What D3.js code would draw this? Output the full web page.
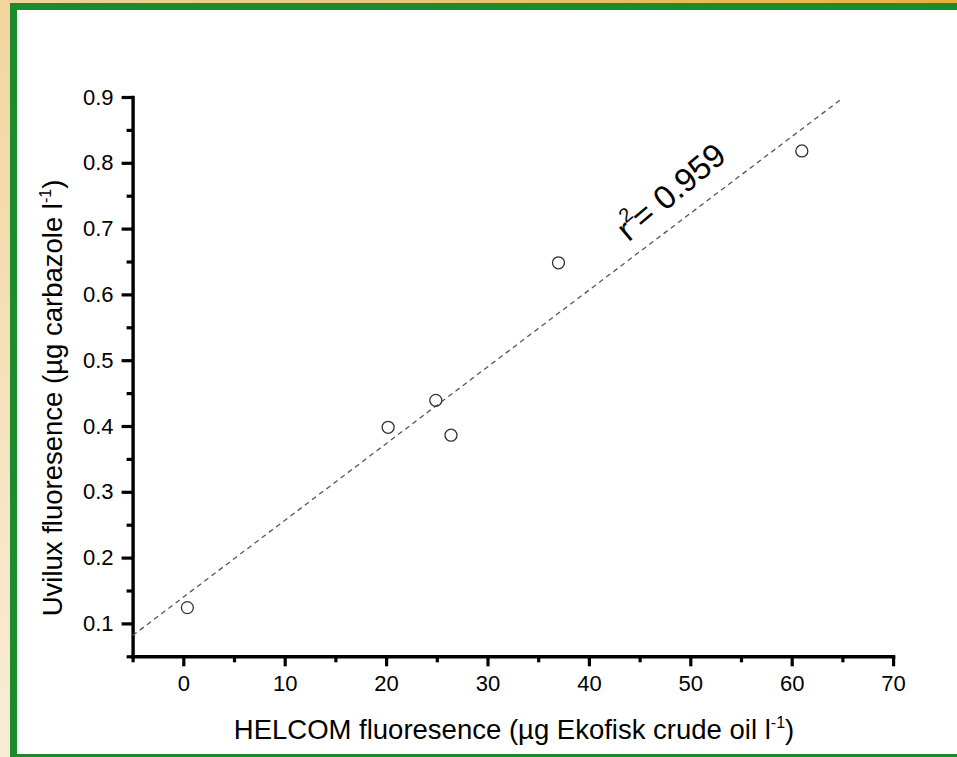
<!DOCTYPE html>
<html>
<head>
<meta charset="utf-8">
<script src="https://cdn.jsdelivr.net/npm/d3@7"></script>
<style>
  body { margin: 0; overflow: hidden; }
  text { font-family: "Liberation Sans", Arial, sans-serif; fill: #000; }
</style>
</head>
<body>
<div class="canvas"></div>
<script>
// measured points
const helcom = [0.4, 20.2, 24.9, 26.4, 37.0, 61.0];
const uvilux = [0.124, 0.398, 0.439, 0.386, 0.648, 0.818];

// regression line end points
const fitX = [-5, 65];
const fitY = [0.0815, 0.898];

const xMajor = [0, 10, 20, 30, 40, 50, 60, 70];
const xMinor = [-5, 5, 15, 25, 35, 45, 55, 65];
const yMajor = [0.1, 0.2, 0.3, 0.4, 0.5, 0.6, 0.7, 0.8, 0.9];
const yMinor = [0.05, 0.15, 0.25, 0.35, 0.45, 0.55, 0.65, 0.75, 0.85];

const rLabel = '0.959';

const W = 957, H = 757;

const svg = d3.select('.canvas').append('svg')
    .attr('width', W)
    .attr('height', H);

// slide background + green frame
const defs = svg.append('defs');
const gLeft = defs.append('linearGradient').attr('id', 'bgLeft')
    .attr('x1', 0).attr('y1', 0).attr('x2', 0).attr('y2', 1);
gLeft.append('stop').attr('offset', '0%').attr('stop-color', '#f1d59d');
gLeft.append('stop').attr('offset', '100%').attr('stop-color', '#f9ecd6');
const gTop = defs.append('linearGradient').attr('id', 'bgTop')
    .attr('x1', 0).attr('y1', 0).attr('x2', 1).attr('y2', 0);
gTop.append('stop').attr('offset', '0%').attr('stop-color', '#f1d59d');
gTop.append('stop').attr('offset', '100%').attr('stop-color', '#e8b040');

svg.append('rect').attr('width', W).attr('height', H).attr('fill', 'url(#bgLeft)');
svg.append('rect').attr('width', W).attr('height', 4).attr('fill', 'url(#bgTop)');
svg.append('rect').attr('x', 10).attr('y', 3).attr('width', W).attr('height', H)
    .attr('fill', '#1a8c2c');
svg.append('rect').attr('x', 17).attr('y', 10).attr('width', W).attr('height', 744)
    .attr('fill', '#fff');

// scales
const x = d3.scaleLinear().domain([-5, 70]).range([132.6, 893.1]);
const y = d3.scaleLinear().domain([0.05, 0.9]).range([656.3, 97]);

const graph = svg.append('g');

// axes
graph.append('g')
    .attr('transform', `translate(0, ${y(0.05)})`)
    .call(d3.axisBottom(x).tickValues(xMajor).tickFormat(d3.format('d'))
      .tickSize(10).tickSizeOuter(0).tickPadding(9));

graph.append('g')
    .attr('transform', `translate(0, ${y(0.05)})`)
    .call(d3.axisBottom(x).tickValues(xMinor).tickFormat('')
      .tickSize(6).tickSizeOuter(0))
    .call(g => g.select('.domain').remove());

graph.append('g')
    .attr('transform', `translate(${x(-5)}, 0)`)
    .call(d3.axisLeft(y).tickValues(yMajor).tickFormat(d3.format('.1f'))
      .tickSize(11).tickSizeOuter(0).tickPadding(8));

graph.append('g')
    .attr('transform', `translate(${x(-5)}, 0)`)
    .call(d3.axisLeft(y).tickValues(yMinor).tickFormat('')
      .tickSize(6).tickSizeOuter(0))
    .call(g => g.select('.domain').remove());

graph.selectAll('.domain')
    .attr('stroke', '#000')
    .attr('stroke-width', 3.4)
    .attr('stroke-linecap', 'square');
graph.selectAll('.tick line')
    .attr('stroke', '#000')
    .attr('stroke-width', 3.2);
graph.selectAll('.tick text')
    .style('font-size', '22px')
    .style('font-family', '"Liberation Sans", Arial, sans-serif')
    .attr('fill', '#000');

// regression line
graph.append('path')
    .datum(d3.zip(fitX, fitY))
    .attr('d', d3.line().x(d => x(d[0])).y(d => y(d[1])))
    .attr('fill', 'none')
    .attr('stroke', '#555')
    .attr('stroke-width', 1.3)
    .attr('stroke-dasharray', '5,4');

// points
graph.selectAll('circle')
    .data(d3.zip(helcom, uvilux))
    .enter()
    .append('circle')
    .attr('cx', d => x(d[0]))
    .attr('cy', d => y(d[1]))
    .attr('r', 6)
    .attr('fill', 'none')
    .attr('stroke', '#333')
    .attr('stroke-width', 1.3);

// r squared label, rotated along the line
const rText = graph.append('text')
    .attr('transform', `translate(${x(43.9)}, ${y(0.679)}) rotate(-40)`)
    .style('font-size', '33px');
rText.append('tspan').text('r');
rText.append('tspan').attr('dy', -16).attr('dx', -1).style('font-size', '20px').text('2');
rText.append('tspan').attr('dy', 16).attr('dx', -2).text('= ' + rLabel);

// axis titles
const xTitle = svg.append('text')
    .attr('x', 514)
    .attr('y', 739)
    .attr('text-anchor', 'middle')
    .style('font-size', '27.5px');
xTitle.append('tspan').text('HELCOM fluoresence (\u00b5g Ekofisk crude oil l');
xTitle.append('tspan').attr('dy', -11).style('font-size', '16px').text('-1');
xTitle.append('tspan').attr('dy', 11).text(')');

const yTitle = svg.append('text')
    .attr('transform', 'translate(62, 398) rotate(-90)')
    .attr('text-anchor', 'middle')
    .style('font-size', '27.5px');
yTitle.append('tspan').text('Uvilux fluoresence (\u00b5g carbazole l');
yTitle.append('tspan').attr('dy', -11).style('font-size', '16px').text('-1');
yTitle.append('tspan').attr('dy', 11).text(')');
</script>
</body>
</html>
